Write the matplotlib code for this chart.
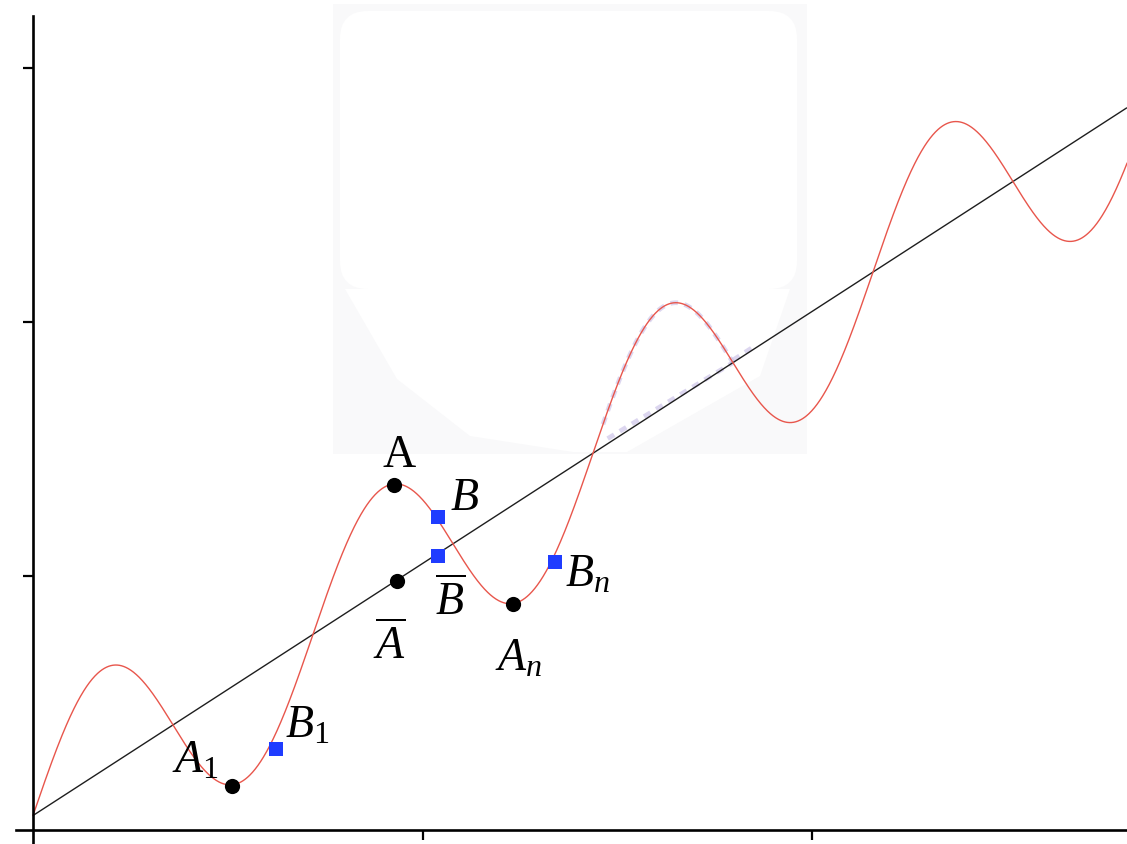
import numpy as np
import matplotlib
matplotlib.use("Agg")
import matplotlib.pyplot as plt
from matplotlib.patches import Rectangle, FancyBboxPatch, Polygon
from matplotlib.transforms import IdentityTransform

plt.rcParams['mathtext.fontset'] = 'custom'
plt.rcParams['mathtext.rm'] = 'Liberation Serif'
plt.rcParams['mathtext.it'] = 'Liberation Serif:italic'
plt.rcParams['mathtext.bf'] = 'Liberation Serif:bold'

# straight trend y = intercept + slope * x, and the wave riding on it
LINE_SLOPE = 0.9925
LINE_INTERCEPT = 0.057
WAVE_AMPLITUDE = 0.398
WAVE_FREQ = 8.743
X_END = 2.808

x_ticks = [1, 2]
y_ticks = [1, 2, 3]

# black dots: A, A-bar, A_n, A_1
dot_x = [0.927, 0.934, 1.232, 0.511]
dot_y = [1.358, 0.980, 0.890, 0.173]
dot_labels = [r'$\mathrm{A}$', r'$\overline{A}$', r'$A_n$', r'$A_{\mathrm{1}}$']
dot_offsets = [(-8.6, 13.7), (-17, -56), (-13, -47), (-43, 10)]

# blue squares: B, B-bar, B_n, B_1
sq_x = [1.040, 1.040, 1.340, 0.624]
sq_y = [1.232, 1.079, 1.055, 0.319]
sq_labels = [r'$B$', r'$\overline{B}$', r'$B_n$', r'$B_{\mathrm{1}}$']
sq_offsets = [(8.6, 5.8), (-2, -41.8), (7, -17), (6.5, 8.6)]

W, H = 1127, 845
fig = plt.figure(figsize=(W / 100, H / 100), dpi=100)
ax = fig.add_axes([16 / W, 0, 1 - 16 / W, 1 - 17 / H])
ax.set_xlim(-0.0436, X_END)
ax.set_ylim(-0.0551, 3.205)

def trend(x):
    return LINE_INTERCEPT + LINE_SLOPE * x

def wave(x):
    return trend(x) + WAVE_AMPLITUDE * np.sin(WAVE_FREQ * x)

# pale pasted panel in the upper middle (pixel coordinates, origin top-left)
def disp(px, py):
    return (px, H - py)

pix = IdentityTransform()
ax.add_patch(Rectangle(disp(333, 455), 807 - 333, 455 - 5, transform=pix,
                       facecolor='#f9f9fa', edgecolor='none', zorder=0.2, clip_on=False))
ax.add_patch(FancyBboxPatch(disp(340, 290), 797 - 340, 290 - 12,
                            boxstyle='round,pad=0,rounding_size=28', transform=pix,
                            facecolor='white', edgecolor='none', zorder=0.3, clip_on=False))
poly_px = [(345, 290), (397, 380), (470, 437), (573, 453), (627, 453),
           (760, 377), (790, 290)]
ax.add_patch(Polygon([disp(*p) for p in poly_px], closed=True, transform=pix,
                     facecolor='white', edgecolor='none', zorder=0.3, clip_on=False))

xs = np.linspace(0, X_END, 2000)
ax.plot(xs, trend(xs), color='#1e1e1e', lw=1.0, zorder=2, solid_capstyle='butt')
ax.plot(xs, wave(xs), color='#e8564c', lw=1.0, zorder=2.1)

# faint dashed trace over the hump
g1 = np.linspace(1.463, 1.797, 200)
g2 = np.linspace(1.797, 1.858, 30)
ghost = dict(color='#b3a6dc', lw=3.4, alpha=0.45, ls=(0, (1.6, 1.4)), zorder=1.8)
ax.plot(g1, wave(g1), **ghost)
ax.plot(g2, trend(g2) + 0.01, **ghost)
g3 = np.linspace(1.475, 1.797, 100)
ax.plot(g3, trend(g3) + 0.02 * (1.797 - g3) / 0.32, **ghost)

# markers
ax.scatter(dot_x, dot_y, s=120, color='black', marker='o', zorder=3, linewidths=0)
ax.scatter(sq_x, sq_y, s=90, color='#1f3cff', marker='s', zorder=3, linewidths=0)

for x, y, lab, off in zip(dot_x + sq_x, dot_y + sq_y, dot_labels + sq_labels,
                          dot_offsets + sq_offsets):
    ax.annotate(lab, (x, y), xytext=off, textcoords='offset points',
                ha='left', va='baseline', fontsize=33, color='black', zorder=4)

# axes crossing at the origin
for side in ('top', 'right'):
    ax.spines[side].set_visible(False)
ax.spines['left'].set_position(('data', 0))
ax.spines['bottom'].set_position(('data', 0))
for side in ('left', 'bottom'):
    ax.spines[side].set_linewidth(1.9)
    ax.spines[side].set_color('black')
ax.set_xticks(x_ticks)
ax.set_yticks(y_ticks)
ax.tick_params(direction='out', length=7, width=1.6, color='black',
               labelbottom=False, labelleft=False)
ax.patch.set_facecolor('white')

fig.savefig('out.png', dpi=100, facecolor='white')
